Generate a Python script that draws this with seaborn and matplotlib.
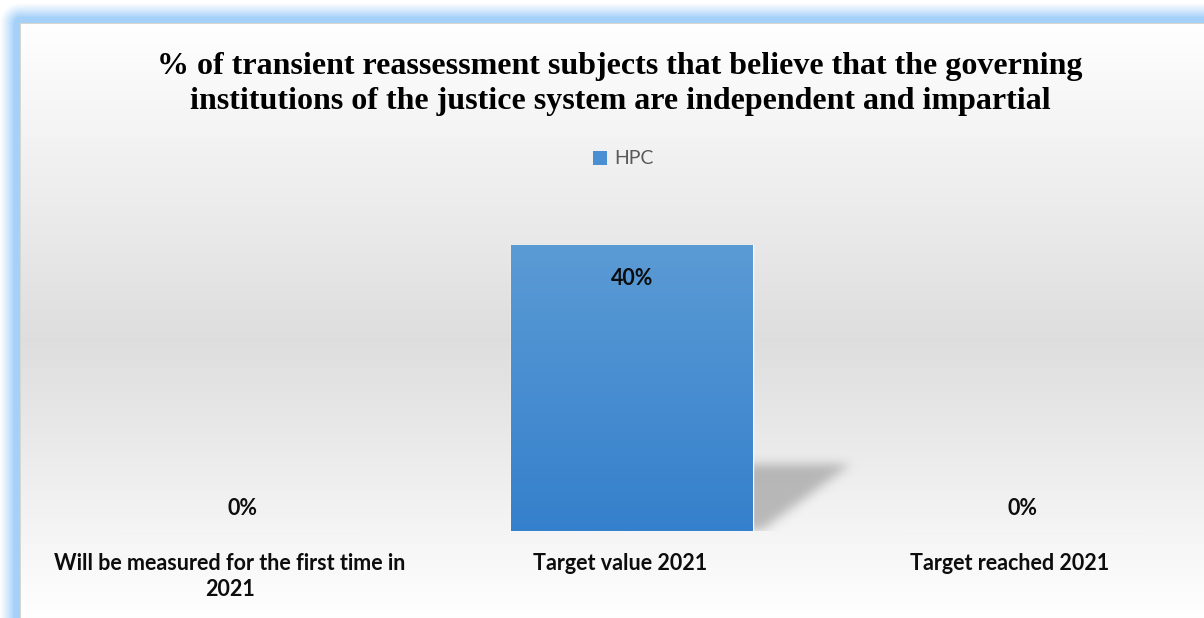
import numpy as np
import pandas as pd
import matplotlib
matplotlib.use("Agg")
import matplotlib.pyplot as plt
import matplotlib.transforms as mtransforms
from matplotlib.patches import Patch
from matplotlib.path import Path
import seaborn as sns

# ---- data ----
categories = ["Will be measured for the first time in\n2021", "Target value 2021", "Target reached 2021"]
values = [0, 40, 0]
value_labels = ["0%", "40%", "0%"]
series_name = "HPC"
title = ("% of transient reassessment subjects that believe that the governing\n"
         "institutions of the justice system are independent and impartial")

W, H = 1204, 618
DPI = 100

sns.set_theme(style="white")
plt.rcParams["font.family"] = ["Lato", "DejaVu Sans"]

fig = plt.figure(figsize=(W / DPI, H / DPI), dpi=DPI)
fig.patch.set_facecolor("white")

# ---- background: blue glow frame + white/grey/white chart area ----
yy, xx = np.mgrid[0:H, 0:W].astype(float)
cx0, cy0 = 20.0, 23.0
dx = np.clip(cx0 - xx, 0, None)
dy = np.clip(cy0 - yy, 0, None)
d = np.sqrt(dx ** 2 + dy ** 2)
glow = np.clip(1 - (d - 6) / 15, 0, 1) ** 1.2
blue = np.array([0.65, 0.82, 0.98])
bg = np.ones((H, W, 3))
outside = d > 0
bg[outside] = (1 - glow[outside, None]) * 1.0 + glow[outside, None] * blue

inside = ~outside
yc = yy[inside]
mid = 340.0
v = np.where(yc < mid,
             1.0 - (yc - cy0) / (mid - cy0) * 0.13,
             0.87 + (yc - mid) / (H - mid) * 0.13)
bg[inside] = v[:, None]
# thin border of the chart area
edge = np.array([0.85, 0.84, 0.82])
bg[int(cy0):, int(cx0)] = edge
bg[int(cy0), int(cx0):] = edge

bg_ax = fig.add_axes([0, 0, 1, 1], zorder=-2)
bg_ax.imshow(bg, aspect="auto", interpolation="bilinear")
bg_ax.set_axis_off()

# ---- plot axes ----
left_px, right_px, base_px, top_px = 47, 1217, 531, 188
ax = fig.add_axes([left_px / W, (H - base_px) / H,
                   (right_px - left_px) / W, (base_px - top_px) / H])
ax.patch.set_alpha(0)

df = pd.DataFrame({"category": categories, "value": values, "series": series_name})
sns.barplot(data=df, x="category", y="value", color="#4a8fd2", width=0.62,
            saturation=1, ax=ax, zorder=3)
ax.set_xlim(-0.5, 2.5)
ax.set_ylim(0, 48)

# gradient fill for the bars, clipped to each bar patch
grad = np.linspace(0, 1, 256)[:, None]
top_c = np.array([91, 155, 213]) / 255
bot_c = np.array([53, 128, 204]) / 255
grad_img = (1 - grad)[..., None] * top_c + grad[..., None] * bot_c
grad_img = np.repeat(grad_img, 2, axis=1)

for p in ax.patches:
    h = p.get_height()
    if h <= 0:
        continue
    x0 = p.get_x()
    w = p.get_width()
    im = ax.imshow(grad_img, extent=[x0, x0 + w, 0, h], aspect="auto",
                   zorder=4, interpolation="bilinear")
    im.set_clip_path(p)

    # soft perspective shadow behind the bar
    xr = x0 + w
    sh_top = h * 0.235
    xtip = xr + 0.25
    ex = [xr - 0.2, xtip + 0.2, -2.0, sh_top + 4.0]
    nx, ny = 300, 140
    gx = np.linspace(ex[0], ex[1], nx)
    gy = np.linspace(ex[3], ex[2], ny)
    GX, GY = np.meshgrid(gx, gy)
    poly = Path([(xr - 0.15, sh_top), (xtip, sh_top), (xr + 0.02, 0), (xr - 0.15, 0)])
    mask = poly.contains_points(np.c_[GX.ravel(), GY.ravel()]).reshape(ny, nx).astype(float)
    k = np.exp(-0.5 * (np.arange(-18, 19) / 6.5) ** 2)
    k /= k.sum()
    mask = np.apply_along_axis(lambda r: np.convolve(r, k, mode="same"), 1, mask)
    mask = np.apply_along_axis(lambda c: np.convolve(c, k, mode="same"), 0, mask)
    shadow = np.zeros((ny, nx, 4))
    shadow[..., :3] = 0.45
    shadow[..., 3] = mask * 0.45
    ax.imshow(shadow, extent=ex, aspect="auto", zorder=2, interpolation="bilinear")

ax.set_xlim(-0.5, 2.5)
ax.set_ylim(0, 48)

# value labels
for i, (val, lab) in enumerate(zip(values, value_labels)):
    y = val - 4.6 if val > 0 else val + 3.2
    ax.text(i, y, lab, ha="center", va="center", fontsize=15.5,
            fontweight="bold", color="#0d0d0d", zorder=6)

ax.set_xlabel("")
ax.set_ylabel("")
ax.set_yticks([])
ax.tick_params(axis="x", length=0, pad=16)
shift = mtransforms.ScaledTranslation(-12 / DPI, 0, fig.dpi_scale_trans)
for tick in ax.xaxis.get_major_ticks():
    lbl = tick.label1
    lbl.set_fontsize(15.5)
    lbl.set_fontweight("bold")
    lbl.set_color("#0d0d0d")
    lbl.set_linespacing(1.3)
    lbl.set_transform(lbl.get_transform() + shift)
for s in ax.spines.values():
    s.set_visible(False)
ax.grid(False)

# title
fig.text(620 / W, 1 - 84 / H, title, ha="center", va="center",
         fontsize=23, fontweight="bold", family="Liberation Serif",
         color="black", linespacing=1.28)

# legend
handle = Patch(facecolor="#4a8fd2", edgecolor="none", label=series_name)
fig.legend(handles=[handle], loc="center", bbox_to_anchor=(623 / W, 1 - 159 / H),
           frameon=False, handlelength=0.75, handleheight=0.75, handletextpad=0.35,
           prop={"size": 14, "family": "Lato"}, labelcolor="#595959")

fig.savefig("out.png", dpi=DPI)
